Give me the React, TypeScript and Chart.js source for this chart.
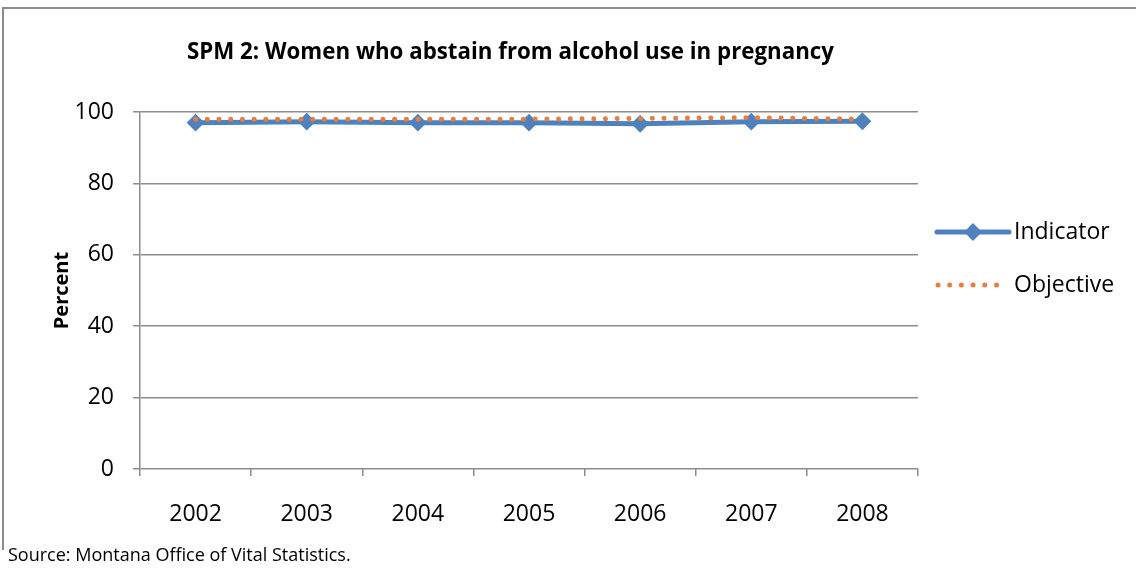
import React, { useEffect, useRef } from "react";
import { Chart, registerables } from "chart.js";

Chart.register(...registerables);

const categories = ["2002", "2003", "2004", "2005", "2006", "2007", "2008"];
const indicatorValues = [97.0, 97.3, 97.0, 97.0, 96.7, 97.3, 97.4];
const objectiveValues = [98.0, 98.0, 98.0, 98.0, 98.2, 98.4, 98.0];
const yTickValues = [0, 20, 40, 60, 80, 100];
const titleText = "SPM 2: Women who abstain from alcohol use in pregnancy";
const yAxisTitle = "Percent";
const sourceText = "Source: Montana Office of Vital Statistics.";
const seriesNames = ["Indicator", "Objective"];

const FONT = "'Open Sans', 'Noto Sans', sans-serif";
const BLUE = "#4F81BD";
const ORANGE = "#E67E3F";
const GRID = "#8c8c8c";

const decorPlugin = {
  id: "decor",
  afterDraw(chart: any) {
    const ctx = chart.ctx as CanvasRenderingContext2D;
    const area = chart.chartArea;
    ctx.save();
    // outer border (left + top)
    ctx.strokeStyle = GRID;
    ctx.lineWidth = 2;
    ctx.beginPath();
    ctx.moveTo(3, 550);
    ctx.lineTo(3, 8);
    ctx.lineTo(1136, 8);
    ctx.stroke();

    // title
    ctx.fillStyle = "#000";
    ctx.font = `bold 22.3px ${FONT}`;
    ctx.textAlign = "center";
    ctx.textBaseline = "middle";
    ctx.fillText(titleText, 510.5, 53);

    // y-axis title
    ctx.save();
    ctx.translate(62, (area.top + area.bottom) / 2);
    ctx.rotate(-Math.PI / 2);
    ctx.font = `bold 20px ${FONT}`;
    ctx.fillText(yAxisTitle, 0, 0);
    ctx.restore();

    // legend
    const lx0 = 937;
    const lx1 = 1009;
    const ly1 = 232;
    const ly2 = 285;
    ctx.strokeStyle = BLUE;
    ctx.lineWidth = 5;
    ctx.lineCap = "round";
    ctx.beginPath();
    ctx.moveTo(lx0, ly1);
    ctx.lineTo(lx1, ly1);
    ctx.stroke();
    ctx.fillStyle = BLUE;
    const cx = (lx0 + lx1) / 2;
    ctx.beginPath();
    ctx.moveTo(cx, ly1 - 9);
    ctx.lineTo(cx + 9, ly1);
    ctx.lineTo(cx, ly1 + 9);
    ctx.lineTo(cx - 9, ly1);
    ctx.closePath();
    ctx.fill();

    ctx.fillStyle = ORANGE;
    for (let i = 0; i < 6; i++) {
      ctx.beginPath();
      ctx.arc(lx0 + 1 + i * 11.7, ly2, 2.5, 0, Math.PI * 2);
      ctx.fill();
    }

    ctx.fillStyle = "#000";
    ctx.font = `23px ${FONT}`;
    ctx.textAlign = "left";
    ctx.textBaseline = "middle";
    ctx.fillText(seriesNames[0], 1014, ly1);
    ctx.fillText(seriesNames[1], 1014, ly2);

    // source
    ctx.font = `18px ${FONT}`;
    ctx.textBaseline = "middle";
    ctx.fillText(sourceText, 8, 556);
    ctx.restore();
  },
};

export default function App() {
  const canvasRef = useRef<HTMLCanvasElement | null>(null);

  useEffect(() => {
    const canvas = canvasRef.current;
    if (!canvas) return;
    const chart = new Chart(canvas, {
      type: "line",
      data: {
        labels: categories,
        datasets: [
          {
            label: seriesNames[1],
            data: objectiveValues,
            borderColor: ORANGE,
            backgroundColor: ORANGE,
            borderWidth: 5,
            borderDash: [0.01, 11.7],
            borderCapStyle: "round",
            pointRadius: 0,
            pointHoverRadius: 0,
            tension: 0,
            order: 0,
          },
          {
            label: seriesNames[0],
            data: indicatorValues,
            borderColor: BLUE,
            backgroundColor: BLUE,
            borderWidth: 5,
            pointStyle: "rectRot",
            pointRadius: 7.5,
            pointBorderWidth: 2,
            pointBackgroundColor: BLUE,
            pointBorderColor: BLUE,
            tension: 0,
            order: 1,
          },
        ],
      },
      options: {
        responsive: false,
        animation: false,
        devicePixelRatio: 1,
        layout: { padding: { top: 112, right: 218, bottom: 0, left: 0 } },
        plugins: {
          legend: { display: false },
          title: { display: false },
          tooltip: { enabled: false },
        },
        scales: {
          x: {
            type: "category",
            offset: true,
            afterFit(scale: any) {
              scale.height = 102;
            },
            grid: {
              offset: true,
              drawOnChartArea: false,
              drawTicks: true,
              tickLength: 7,
              color: GRID,
              lineWidth: 1.5,
            },
            border: { display: false },
            ticks: {
              color: "#000",
              font: { family: FONT, size: 23 },
              padding: 25,
              maxRotation: 0,
            },
          },
          y: {
            min: 0,
            max: 100,
            afterFit(scale: any) {
              scale.width = 140;
            },
            afterBuildTicks(scale: any) {
              scale.ticks = yTickValues.map((v) => ({ value: v }));
            },
            grid: {
              color: GRID,
              lineWidth: 1.5,
              drawTicks: true,
              tickLength: 7,
            },
            border: { display: true, color: GRID, width: 1.5 },
            ticks: {
              color: "#000",
              font: { family: FONT, size: 23 },
              padding: 19,
            },
          },
        },
      },
      plugins: [decorPlugin],
    } as any);
    return () => chart.destroy();
  }, []);

  return (
    <div style={{ position: "absolute", left: 0, top: 0, width: 1136, height: 571, background: "#fff" }}>
      <canvas ref={canvasRef} width={1136} height={571} style={{ width: 1136, height: 571, display: "block" }} />
    </div>
  );
}
